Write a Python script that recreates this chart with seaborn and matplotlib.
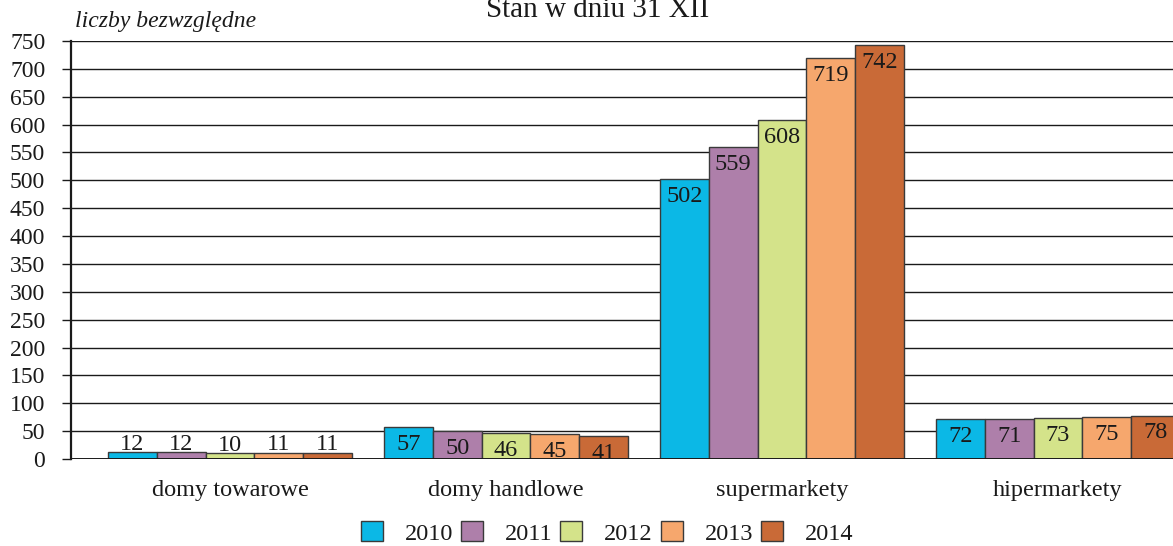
import matplotlib
matplotlib.use("Agg")
import matplotlib.pyplot as plt
import seaborn as sns
import pandas as pd

# Store counts by type (state at 31 XII)
categories = ["domy towarowe", "domy handlowe", "supermarkety", "hipermarkety"]
years = ["2010", "2011", "2012", "2013", "2014"]
v2010 = [12, 57, 502, 72]
v2011 = [12, 50, 559, 71]
v2012 = [10, 46, 608, 73]
v2013 = [11, 45, 719, 75]
v2014 = [11, 41, 742, 78]
series = [v2010, v2011, v2012, v2013, v2014]
colors = ["#0bb8e6", "#ae7faa", "#d4e38a", "#f6a76d", "#c96a37"]

rows = []
for yr, vals in zip(years, series):
    for cat, v in zip(categories, vals):
        rows.append({"kategoria": cat, "rok": yr, "liczba": v})
df = pd.DataFrame(rows)

sns.set_theme(style="white")
plt.rcParams["font.family"] = ["Liberation Serif", "DejaVu Serif"]

FS = 17.5
W, H = 1173, 546
fig = plt.figure(figsize=(W / 100, H / 100), dpi=100)
left_px, right_px, top_px, bot_px = 71, 1173, 41, 459
ax = fig.add_axes([left_px / W, 1 - bot_px / H, (right_px - left_px) / W, (bot_px - top_px) / H])

sns.barplot(data=df, x="kategoria", y="liczba", hue="rok", order=categories,
            hue_order=years, palette=colors, width=0.885, saturation=1,
            edgecolor="#3a3a3a", linewidth=1.0, ax=ax, zorder=3)

spacing = 276.0
c0 = 230.0
ax.set_xlim(-(c0 - left_px) / spacing, (right_px - c0) / spacing)
ax.set_ylim(0, 750)
ax.set_yticks(range(0, 751, 50))
ax.yaxis.grid(True, color="#1a1a1a", linewidth=1.0, zorder=0)
ax.xaxis.grid(False)
for s in ["top", "right", "bottom"]:
    ax.spines[s].set_visible(False)
ax.spines["left"].set_color("#1a1a1a")
ax.spines["left"].set_linewidth(1.6)
ax.tick_params(axis="y", length=6.5, width=1.0, color="#1a1a1a", pad=12,
               labelsize=17, labelcolor="#1a1a1a", left=True)
ax.tick_params(axis="x", length=0, pad=15, labelsize=FS, labelcolor="#1a1a1a")
ax.set_xlabel("")
ax.set_ylabel("")
ax.axhline(0, color="#1a1a1a", linewidth=1.4, zorder=4)

# value labels: above the bar for the small first group, inside near the top otherwise
for ci, (cont, vals) in enumerate(zip(ax.containers, series)):
    for bi, (bar, v) in enumerate(zip(cont, vals)):
        x = bar.get_x() + bar.get_width() / 2
        if bi == 0:
            ax.annotate(str(v), (x, v), xytext=(0, 2), textcoords="offset points",
                        ha="center", va="baseline", fontsize=FS, color="#1a1a1a", zorder=5)
        else:
            ax.annotate(str(v), (x, v), xytext=(0, -12.5), textcoords="offset points",
                        ha="center", va="center", fontsize=FS, color="#1a1a1a", zorder=5)

handles, labels = ax.get_legend_handles_labels()
if ax.get_legend() is not None:
    ax.get_legend().remove()
fig.legend(handles, labels, loc="center", bbox_to_anchor=(607 / W, 1 - 533 / H),
           ncol=5, frameon=False, fontsize=FS, handlelength=0.9, handleheight=0.9,
           handletextpad=0.9, columnspacing=0.33, labelcolor="#1a1a1a")

fig.text(75 / W, 1 - 22 / H, "liczby bezwzględne", ha="left", va="center",
         fontsize=17, style="italic", color="#1a1a1a")
fig.text(598 / W, 1 - 17 / H, "Stan w dniu 31 XII", ha="center", va="baseline",
         fontsize=21, color="#1a1a1a")

fig.savefig("out.png", dpi=100, facecolor="white")
